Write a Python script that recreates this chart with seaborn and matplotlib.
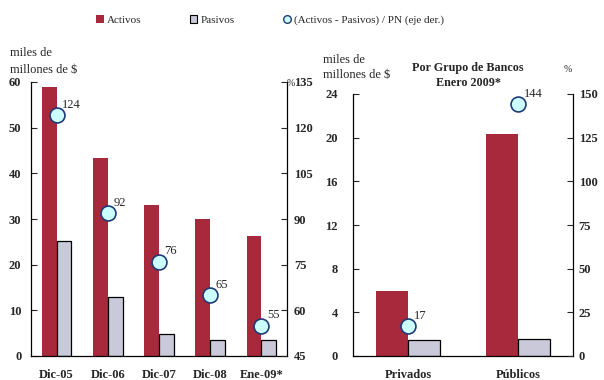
import matplotlib
matplotlib.use("Agg")
import matplotlib.pyplot as plt
from matplotlib.lines import Line2D
from matplotlib.patches import Patch
import seaborn as sns
import pandas as pd

sns.set_style("white")
plt.rcParams["font.family"] = ["Liberation Serif", "DejaVu Serif"]

# Evolución
periodos = ["Dic-05", "Dic-06", "Dic-07", "Dic-08", "Ene-09*"]
activos = [59.0, 43.3, 33.0, 30.0, 26.3]
pasivos = [25.2, 12.9, 4.8, 3.4, 3.5]
ratio = [124, 92, 76, 65, 55]

# Por grupo de bancos, enero 2009
grupos = ["Privados", "Públicos"]
activos_g = [6.0, 20.3]
pasivos_g = [1.5, 1.6]
ratio_g = [17, 144]

C_ACT = "#A8293B"
C_PAS = "#C9C9D9"
C_DOT = "#CCFFFF"
C_EDGE = "#1F3A78"

fig = plt.figure(figsize=(6.04, 3.8), dpi=100)
ax1 = fig.add_axes([31 / 604, 24 / 380, 256 / 604, 274 / 380])
ax3 = fig.add_axes([353 / 604, 24 / 380, 220 / 604, 262 / 380])


def panel(ax, cats, act, pas, rat, ylim, yticks, rlim, rticks, lpad, rpad):
    df = pd.DataFrame({
        "cat": cats * 2,
        "val": act + pas,
        "serie": ["Activos"] * len(cats) + ["Pasivos"] * len(cats),
    })
    sns.barplot(data=df, x="cat", y="val", hue="serie", order=cats,
                palette=[C_ACT, C_PAS], width=0.58, gap=0, dodge=True,
                legend=False, ax=ax, saturation=1)
    for p in ax.containers[0]:
        p.set_edgecolor("none")
    for p in ax.containers[1]:
        p.set_edgecolor("black")
        p.set_linewidth(0.9)
    ax.set_xlim(-0.5, len(cats) - 0.5)
    ax.set_ylim(*ylim)
    ax.set_yticks(yticks)
    ax.set_xlabel("")
    ax.set_ylabel("")
    ax.tick_params(axis="y", direction="in", length=4, width=0.8, pad=lpad,
                   labelsize=9, left=True)
    ax.tick_params(axis="x", length=0, pad=9, labelsize=9)
    for lab in ax.get_xticklabels() + ax.get_yticklabels():
        lab.set_fontweight("bold")
    for s in ["left", "right", "bottom"]:
        ax.spines[s].set_visible(True)
        ax.spines[s].set_color("black")
        ax.spines[s].set_linewidth(0.9)
    ax.spines["top"].set_visible(False)

    ax2 = ax.twinx()
    sns.scatterplot(x=cats, y=rat, ax=ax2, s=115, color=C_DOT,
                    edgecolor=C_EDGE, linewidth=1.2, zorder=5, legend=False)
    for c, r in zip(cats, rat):
        ax2.annotate(str(r), (c, r), xytext=(4, 3), textcoords="offset points",
                     ha="left", va="bottom", fontsize=9)
    ax2.set_ylim(*rlim)
    ax2.set_yticks(rticks)
    ax2.set_ylabel("")
    ax2.tick_params(axis="y", direction="in", length=4, width=0.8, pad=rpad,
                    labelsize=9, right=True)
    for lab in ax2.get_yticklabels():
        lab.set_fontweight("bold")
    for s in ["left", "top", "bottom", "right"]:
        ax2.spines[s].set_visible(False)
    return ax2


panel(ax1, periodos, activos, pasivos, ratio, (0, 60), range(0, 61, 10),
      (45, 135), range(45, 136, 15), 7, 5)
panel(ax3, grupos, activos_g, pasivos_g, ratio_g, (0, 24), range(0, 25, 4),
      (0, 150), range(0, 151, 25), 11, 4)

# Textos de ejes y títulos
fs = 9
fig.text(10 / 604, 1 - 53 / 380, "miles de", fontsize=fs, va="center", ha="left")
fig.text(10 / 604, 1 - 70 / 380, "millones de $", fontsize=fs, va="center", ha="left")
fig.text(323 / 604, 1 - 60 / 380, "miles de", fontsize=fs, va="center", ha="left")
fig.text(323 / 604, 1 - 75 / 380, "millones de $", fontsize=fs, va="center", ha="left")
fig.text(287 / 604, 1 - 83 / 380, "%", fontsize=7, va="center", ha="left")
fig.text(568 / 604, 1 - 69 / 380, "%", fontsize=7, va="center", ha="center")
fig.text(468 / 604, 1 - 68 / 380, "Por Grupo de Bancos", fontsize=8.7,
         fontweight="bold", va="center", ha="center")
fig.text(468 / 604, 1 - 83 / 380, "Enero 2009*", fontsize=8.7,
         fontweight="bold", va="center", ha="center")

handles = [
    Patch(facecolor=C_ACT, edgecolor="none", label="Activos"),
    Patch(facecolor=C_PAS, edgecolor="black", linewidth=0.8, label="Pasivos"),
    Line2D([], [], marker="o", linestyle="none", markersize=5.5,
           markerfacecolor=C_DOT, markeredgecolor=C_EDGE,
           label="(Activos - Pasivos) / PN (eje der.)"),
]
fig.legend(handles=handles, loc="center", bbox_to_anchor=(270 / 604, 1 - 20 / 380),
           ncol=3, frameon=False, fontsize=8, handlelength=0.7,
           handleheight=0.7, handletextpad=0.3, columnspacing=4.3)

fig.savefig("out.png", dpi=100)
